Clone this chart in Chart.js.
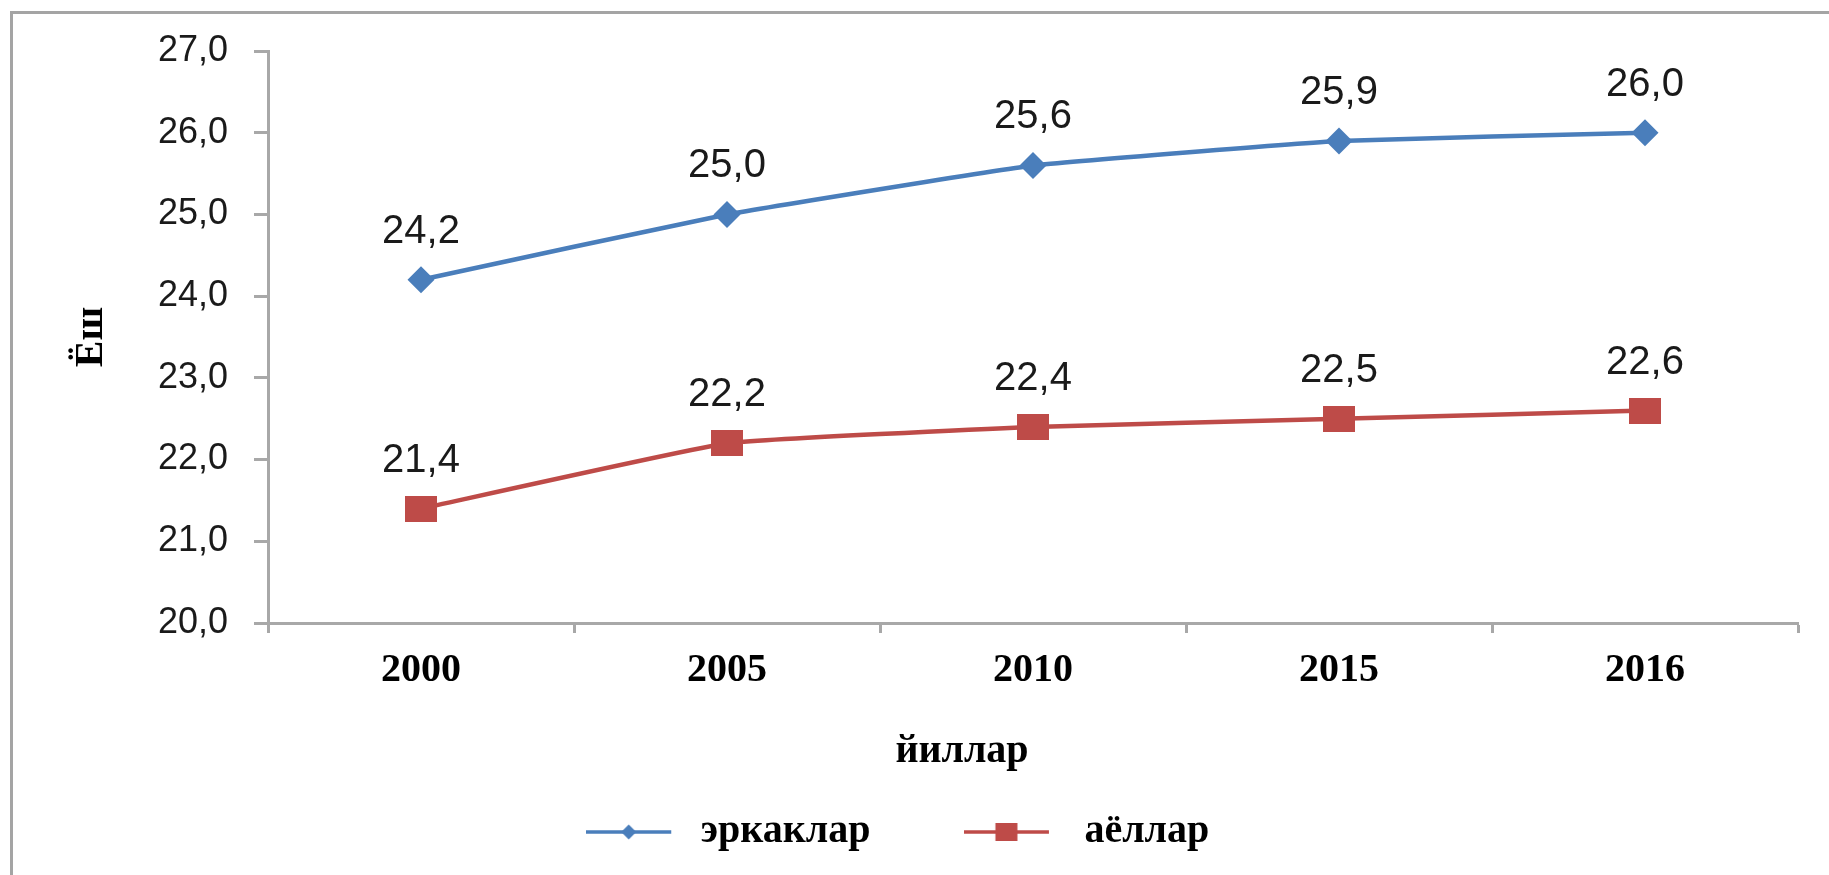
<!DOCTYPE html>
<html>
<head>
<meta charset="utf-8">
<script src="https://cdn.jsdelivr.net/npm/chart.js@4.4.1/dist/chart.umd.min.js"></script>
<style>
  html, body { margin: 0; padding: 0; background: #fff; overflow: hidden; }
  #frame { position: absolute; left: 10px; top: 11px; width: 1900px; height: 1000px; border: 3px solid #a4a4a4; }
  #chart { position: absolute; left: 0; top: 0; }
</style>
</head>
<body>
<div id="frame"></div>
<canvas id="chart" width="1829" height="875"></canvas>
<script>
// данные
const years = ['2000', '2005', '2010', '2015', '2016'];
const menAge = [24.2, 25.0, 25.6, 25.9, 26.0];
const womenAge = [21.4, 22.2, 22.4, 22.5, 22.6];
const seriesNames = ['эркаклар', 'аёллар'];
const yTitle = 'Ёш';
const xTitle = 'йиллар';
const yMin = 20, yMax = 27, yStep = 1;

const BLUE = '#4a7ebb';
const RED = '#be4b48';
const AXIS = '#a8a8a8';
const SANS = '"Liberation Sans", Arial, sans-serif';
const SERIF = '"Liberation Serif", "Times New Roman", serif';

const fmt = v => v.toFixed(1).replace('.', ',');

function makeIcon(w, h, draw) {
    const c = document.createElement('canvas');
    c.width = w;
    c.height = h;
    draw(c.getContext('2d'));
    return c;
}

// маркеры
const squareMarker = makeIcon(32, 26, ctx => {
    ctx.fillStyle = RED;
    ctx.fillRect(0, 0, 32, 26);
});

const menLegendIcon = makeIcon(97, 20, ctx => {
    ctx.strokeStyle = BLUE;
    ctx.lineWidth = 3.5;
    ctx.beginPath();
    ctx.moveTo(0, 10);
    ctx.lineTo(85, 10);
    ctx.stroke();
    ctx.fillStyle = BLUE;
    ctx.beginPath();
    ctx.moveTo(42.5, 2.5);
    ctx.lineTo(50, 10);
    ctx.lineTo(42.5, 17.5);
    ctx.lineTo(35, 10);
    ctx.closePath();
    ctx.fill();
});

const womenLegendIcon = makeIcon(109, 20, ctx => {
    ctx.strokeStyle = RED;
    ctx.lineWidth = 3.5;
    ctx.beginPath();
    ctx.moveTo(0, 10);
    ctx.lineTo(85, 10);
    ctx.stroke();
    ctx.fillStyle = RED;
    ctx.fillRect(31.5, 1, 22, 18);
});
const legendIcons = [menLegendIcon, womenLegendIcon];

// подписи значений над точками
const valueLabels = {
    id: 'valueLabels',
    afterDatasetsDraw(chart) {
        const ctx = chart.ctx;
        ctx.save();
        ctx.font = '40px ' + SANS;
        ctx.fillStyle = '#1a1a1a';
        ctx.textAlign = 'center';
        ctx.textBaseline = 'middle';
        chart.data.datasets.forEach((ds, i) => {
            chart.getDatasetMeta(i).data.forEach((pt, j) => {
                ctx.fillText(fmt(ds.data[j]), pt.x, pt.y - 48);
            });
        });
        ctx.restore();
    }
};

// название оси X (сдвинуто влево, как в оригинале)
const xAxisTitle = {
    id: 'xAxisTitle',
    afterDraw(chart) {
        const {left, right, bottom} = chart.chartArea;
        const ctx = chart.ctx;
        ctx.save();
        ctx.font = 'bold 40px ' + SERIF;
        ctx.fillStyle = '#000';
        ctx.textAlign = 'center';
        ctx.textBaseline = 'middle';
        ctx.fillText(xTitle, (left + right) / 2 - 71, bottom + 129);
        ctx.restore();
    }
};

new Chart(document.getElementById('chart').getContext('2d'), {
    type: 'line',
    data: {
        labels: years,
        datasets: [
            {
                label: seriesNames[0],
                data: menAge,
                borderColor: BLUE,
                backgroundColor: BLUE,
                borderWidth: 4.5,
                tension: 0.1,
                pointStyle: 'rectRot',
                pointRadius: 13.5,
                pointBorderWidth: 0,
                pointBackgroundColor: BLUE
            },
            {
                label: seriesNames[1],
                data: womenAge,
                borderColor: RED,
                backgroundColor: RED,
                borderWidth: 4.5,
                tension: 0.1,
                pointStyle: squareMarker,
                pointRadius: 13,
                pointBorderWidth: 0
            }
        ]
    },
    options: {
        responsive: false,
        devicePixelRatio: 1,
        animation: false,
        layout: {
            padding: { top: 51, left: 0, right: 31, bottom: 13 }
        },
        plugins: {
            title: { display: false },
            tooltip: { enabled: false },
            legend: {
                position: 'bottom',
                labels: {
                    usePointStyle: true,
                    pointStyleWidth: 92,
                    padding: 102,
                    color: '#000',
                    font: { family: SERIF, size: 40, weight: 'bold' },
                    generateLabels: chart => Chart.defaults.plugins.legend.labels.generateLabels(chart)
                        .map((item, i) => ({ ...item, pointStyle: legendIcons[i] }))
                }
            }
        },
        scales: {
            x: {
                offset: true,
                afterFit: scale => { scale.height = 87; },
                border: { display: true, color: AXIS, width: 3 },
                grid: {
                    offset: true,
                    drawOnChartArea: false,
                    tickLength: 10,
                    tickColor: AXIS,
                    tickWidth: 3
                },
                ticks: {
                    padding: 14,
                    color: '#000',
                    font: { family: SERIF, size: 40, weight: 'bold' }
                }
            },
            y: {
                min: yMin,
                max: yMax,
                afterFit: scale => { scale.width = 268; },
                border: { display: true, color: AXIS, width: 3 },
                grid: {
                    drawOnChartArea: false,
                    tickLength: 14,
                    tickColor: AXIS,
                    tickWidth: 3
                },
                ticks: {
                    stepSize: yStep,
                    padding: 26,
                    color: '#1a1a1a',
                    font: { family: SANS, size: 36 },
                    callback: v => fmt(v)
                },
                title: {
                    display: true,
                    text: yTitle,
                    color: '#000',
                    padding: { top: 68, bottom: 0 },
                    font: { family: SERIF, size: 40, weight: 'bold' }
                }
            }
        }
    },
    plugins: [valueLabels, xAxisTitle]
});
</script>
</body>
</html>
